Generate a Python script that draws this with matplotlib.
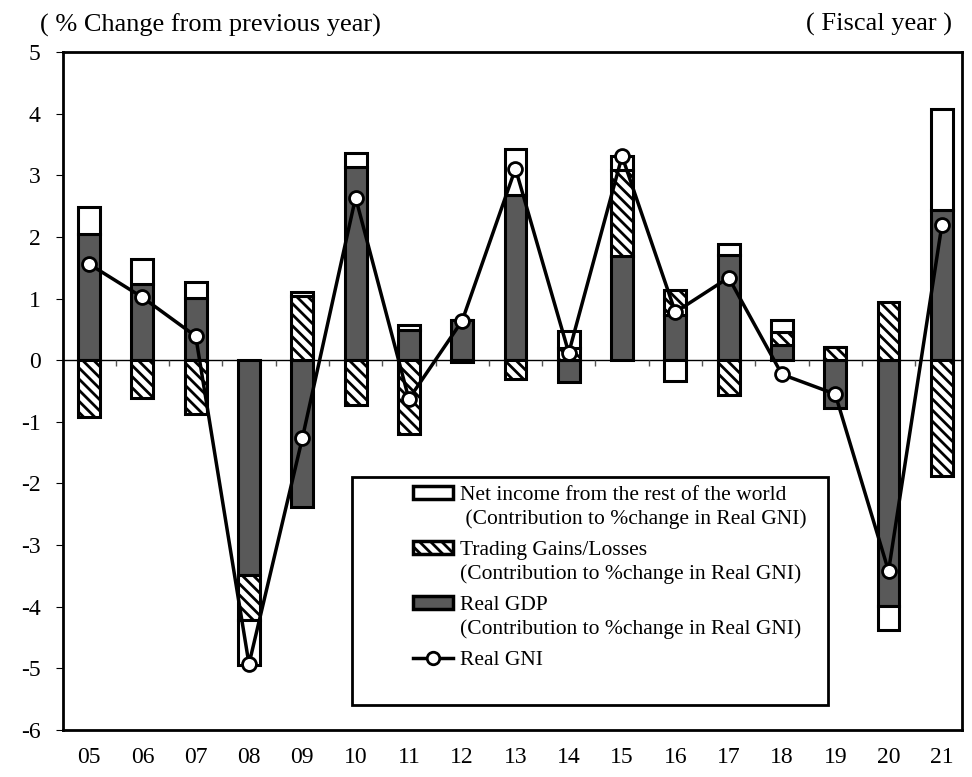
import matplotlib.pyplot as plt
import numpy as np
import matplotlib.patches as mpatches
from matplotlib.lines import Line2D
from matplotlib.legend_handler import HandlerPatch

plt.rcParams['font.family'] = 'Liberation Serif'
plt.rcParams['axes.unicode_minus'] = False
plt.rcParams['hatch.linewidth'] = 2.0

years = ['05', '06', '07', '08', '09', '10', '11', '12', '13', '14', '15', '16', '17', '18', '19', '20', '21']
gdp = [2.04, 1.23, 1.01, -3.48, -2.38, 3.14, 0.49, 0.66, 2.68, -0.35, 1.69, 0.73, 1.70, 0.25, -0.78, -3.99, 2.44]
trading = [-0.92, -0.62, -0.87, -0.74, 1.04, -0.73, -1.20, -0.03, -0.31, 0.20, 1.39, 0.41, -0.57, 0.20, 0.22, 0.95, -1.88]
net_income = [0.45, 0.41, 0.26, -0.73, 0.07, 0.23, 0.08, 0.00, 0.74, 0.27, 0.23, -0.34, 0.19, 0.20, 0.00, -0.38, 1.63]
gni = [1.56, 1.02, 0.39, -4.93, -1.27, 2.64, -0.63, 0.64, 3.11, 0.12, 3.31, 0.78, 1.34, -0.23, -0.55, -3.42, 2.19]

labels = ['Net income from the rest of the world\n (Contribution to %change in Real GNI)',
          'Trading Gains/Losses\n(Contribution to %change in Real GNI)',
          'Real GDP\n(Contribution to %change in Real GNI)',
          'Real GNI']

x = np.arange(len(years))
width = 0.41

fig = plt.figure(figsize=(9.72, 7.77), dpi=100)
ax = fig.add_axes([0.0648, 0.0605, 0.925, 0.8725])

# stack positives upward and negatives downward, in order gdp, trading, net
pos = np.zeros(len(years))
neg = np.zeros(len(years))
styles = [dict(facecolor='#595959', hatch=None),
          dict(facecolor='white', hatch='\\\\\\'),
          dict(facecolor='white', hatch=None)]
for series, st in zip([gdp, trading, net_income], styles):
    vals = np.array(series)
    bottom = np.where(vals >= 0, pos, neg)
    ax.bar(x, vals, width, bottom=bottom, facecolor=st['facecolor'], hatch=st['hatch'],
           edgecolor='black', linewidth=2.2, zorder=3)
    pos = pos + np.where(vals >= 0, vals, 0)
    neg = neg + np.where(vals < 0, vals, 0)

ax.plot(x, gni, color='black', linewidth=2.5, marker='o', markersize=10,
        markerfacecolor='white', markeredgecolor='black', markeredgewidth=2, zorder=4)

ax.axhline(0, color='black', linewidth=1, zorder=2)
bounds = x[:-1] + 0.5
ax.vlines(bounds, -0.09, 0, color='#555555', linewidth=1, zorder=2)

ax.set_xlim(-0.49, 16.38)
ax.set_ylim(-6, 5)
ax.set_yticks(np.arange(-6, 6, 1))
ax.set_xticks(x)
ax.set_xticklabels(years)
ax.tick_params(axis='x', length=0, pad=12, labelsize=17)
ax.tick_params(axis='y', length=5, direction='out', pad=11, labelsize=17)
for s in ax.spines.values():
    s.set_linewidth(2)

fig.text(0.041, 0.968, '( % Change from previous year)', fontsize=19, va='center', ha='left')
fig.text(0.979, 0.968, '( Fiscal year )', fontsize=19, va='center', ha='right')


class ShiftedPatch(HandlerPatch):
    def __init__(self, shift, **kw):
        self.shift = shift
        super().__init__(**kw)

    def create_artists(self, legend, orig_handle, xdescent, ydescent, width, height, fontsize, trans):
        p = mpatches.Rectangle((-xdescent, -ydescent + self.shift * fontsize), width, height,
                               facecolor=orig_handle.get_facecolor(), edgecolor='black',
                               hatch=orig_handle.get_hatch(), linewidth=2.5)
        p.set_transform(trans)
        return [p]


h_net = mpatches.Rectangle((0, 0), 1, 1, facecolor='white', edgecolor='black')
h_trd = mpatches.Rectangle((0, 0), 1, 1, facecolor='white', edgecolor='black', hatch='\\\\\\')
h_gdp = mpatches.Rectangle((0, 0), 1, 1, facecolor='#595959', edgecolor='black')
h_gni = Line2D([], [], color='black', linewidth=2.5, marker='o', markersize=9,
               markerfacecolor='white', markeredgecolor='black', markeredgewidth=2)

frame = mpatches.Rectangle((0.321, 0.037), 0.53, 0.336, transform=ax.transAxes,
                           facecolor='white', edgecolor='black', linewidth=2, zorder=5)
ax.add_patch(frame)

leg = ax.legend([h_net, h_trd, h_gdp, h_gni], labels, loc='upper left',
                bbox_to_anchor=(0.368, 0.389), frameon=False, fontsize=15.5,
                handlelength=1.85, handleheight=0.5, handletextpad=0.3, labelspacing=0.55,
                handler_map={h_net: ShiftedPatch(0.65), h_trd: ShiftedPatch(0.65),
                             h_gdp: ShiftedPatch(0.65)})
for t in leg.get_texts():
    t.set_linespacing(1.3)
leg.set_zorder(6)

fig.savefig('out.png', dpi=100)
